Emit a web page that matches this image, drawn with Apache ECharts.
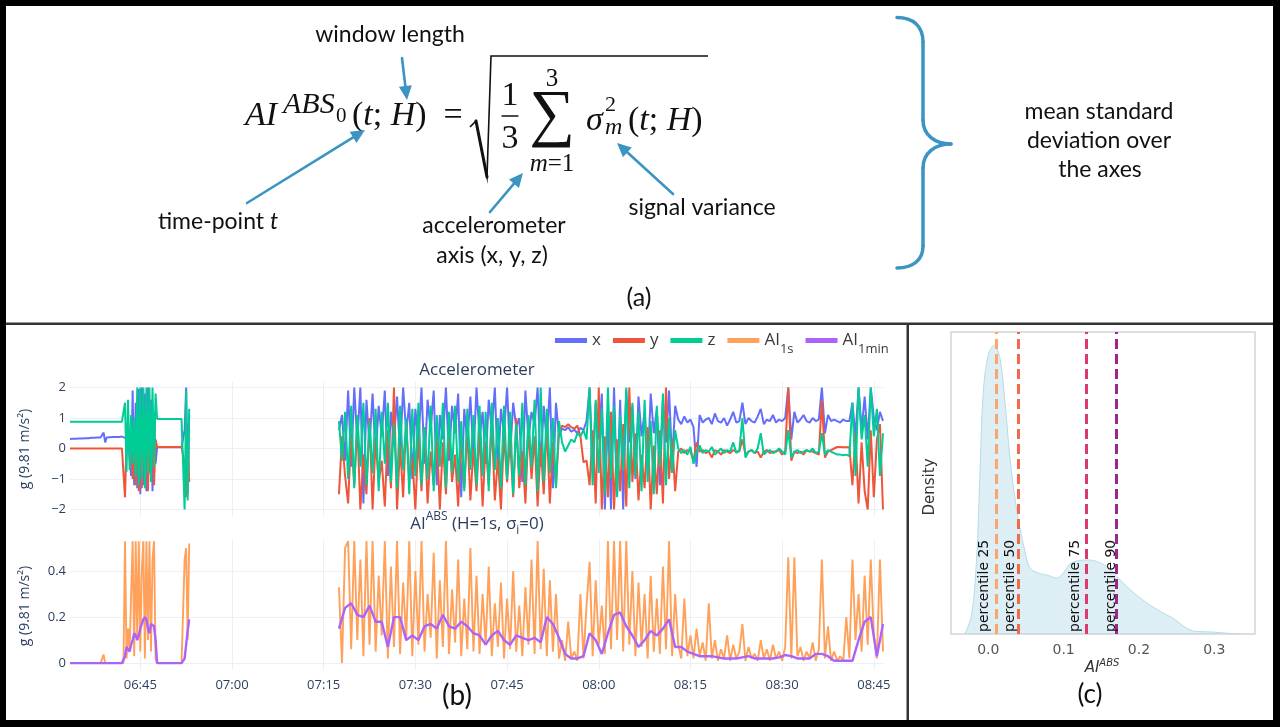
<!DOCTYPE html>
<html><head><meta charset="utf-8">
<script src="https://cdn.jsdelivr.net/npm/echarts@6/dist/echarts.min.js"></script>
<style>html,body{margin:0;padding:0;background:#fff}#c{width:1280px;height:727px}</style>
</head><body><div id="c"></div>
<script>
// ---------------- DATA ----------------
// time in minutes since midnight
const seg1Start = 393.5, seg1Step = 0.25;   // 06:33:30 .. 06:53:00
const seg2Start = 437.5, seg2Step = 0.5;    // 07:17:30 .. 08:46:30
const ai1minSeg2Step = 1.0;
const gapTime = 425;
const xMin = 393.5, xMax = 526.5;

const xTickValues = [405, 420, 435, 450, 465, 480, 495, 510, 525];
const accTicks = [-2, -1, 0, 1, 2];
const aiTicks = [0, 0.2, 0.4];

const accX1 = [0.31,0.31,0.32,0.32,0.32,0.33,0.33,0.33,0.33,0.34,0.34,0.34,0.34,0.35,0.35,0.35,0.35,0.35,0.36,0.36,0.36,0.36,
 0.52,0.2,0.36,
 0.37,0.37,0.37,0.38,0.38,0.38,0.38,0.38,0.38,0.39,0.39,
 0.35,0.3,0.32,0.28,-0.9,1.9,-1.2,1.5,-1.3,1.95,-1.5,2,-1.2,1.8,-1.4,2,-0.8,1.6,-1.4,1.2,-0.5,
 0.04,0.04,0.04,0.04,0.04,0.04,0.04,0.04,0.04,0.04,0.04,0.04,0.04,0.04,0.04,0.04,0.04,
 0.04,0.6,2.0,-1.5,1.1];
const accY1 = [0,0,0,0,0,0,0,0,0,0,0,0,0,0,0,0,0,0,0,0,0,0,0,0,0,0,0,0,0,0,0,0,0,0,0,0,
 -1.6,0.3,0.6,0.2,0.5,-1.0,0.8,-1.2,1.1,-1.4,0.9,-1.3,1.2,-1.1,0.6,-1.4,0.4,-0.9,1.0,-1.2,0.3,
 0.05,0.05,0.05,0.05,0.05,0.05,0.05,0.05,0.05,0.05,0.05,0.05,0.05,0.05,0.05,0.05,0.05,
 0.05,-0.5,-1.6,0.8,-1.1];
const accZ1 = [0.88,0.88,0.88,0.88,0.88,0.88,0.88,0.88,0.88,0.88,0.88,0.88,0.88,0.88,0.88,0.88,0.88,0.88,0.88,0.88,0.88,0.88,0.88,0.88,0.88,0.88,0.88,0.88,0.88,0.88,0.88,0.88,0.88,0.88,0.88,0.88,
 1.5,-0.76,1.6,-0.7,1.1,-0.5,1.0,-0.9,2.0,-1.2,2.0,-1.0,2.0,-1.3,2.0,-0.8,2.0,-1.1,2.0,-0.6,1.8,
 0.97,0.97,0.97,0.97,0.97,0.97,0.97,0.97,0.97,0.97,0.97,0.97,0.97,0.97,0.97,0.97,0.97,
 0.97,-2.0,1.9,-1.7,1.3];
const ai1s1 = [0,0,0,0,0,0,0,0,0,0,0,0,0,0,0,0,0,0,0,0,0,0,0.037,0,0,0,0,0,0,0,0,0,0,0,0,0,
 0.53,0.02,0.15,0.05,0.3,0.53,0.03,0.53,0.1,0.53,0.05,0.4,0.53,0.02,0.53,0.1,0.53,0.05,0.45,0.53,0.02,
 0,0,0,0,0,0,0,0,0,0,0,0,0,0,0,0,0,
 0.0,0.45,0.5,0.1,0.52];
const ai1min1 = [0,0,0,0,0,0,0,0,0,0,0,0,0,0,0,0,0,0,0,0,0,0,0,0,0,0,0,0,0,0,0,0,0,0,0,0,
 0.03,0.07,0.07,0.05,0.08,0.1,0.13,0.12,0.1,0.12,0.15,0.17,0.19,0.2,0.19,0.15,0.13,0.17,0.17,0.16,0.1,
 0,0,0,0,0,0,0,0,0,0,0,0,0,0,0,0,0,
 0.0,0.02,0.08,0.14,0.19];

const accX2 = [0.6,1.1,-0.4,
 1.9,-0.6,2.0,0.2,2.0,-1.8,1.6,0.1,1.8,-0.3,
 1.4,0.4,1.9,-0.9,1.2,0.3,1.7,-0.2,2.0,0.5,
 1.5,-1.0,1.3,0.2,2.0,-0.5,1.6,0.6,1.9,-1.2,
 1.1,0.3,2.0,-0.4,1.4,0.5,1.8,-1.6,1.3,0.2,
 1.7,-0.3,
 2.0,0.4,1.2,-0.5,1.6,0.6,2.0,-0.8,1.3,0.5,
 2.0,-0.2,1.5,0.7,1.0,-1.1,1.9,0.3,1.2,0.8,
 2.0,-0.6,1.4,0.2,2.0,-1.3,1.5,0.4,
 0.65,0.6,0.7,0.55,0.62,0.5,0.68,0.6,0.9,
 2.0,-0.8,1.5,0.3,1.8,-2.0,1.2,-2.0,2.0,-1.5,
 1.6,-2.0,1.9,0.2,1.4,-1.0,1.7,0.4,1.2,-0.7,
 1.8,0.5,1.3,-1.2,1.6,0.2,1.9,-0.4,1.4,
 0.95,0.8,1.05,0.85,0.95,0.7,-0.6,1.1,0.85,0.95,
 1.0,0.8,1.15,0.9,0.85,1.0,0.75,0.95,1.2,0.85,
 0.9,1.5,0.8,1.0,0.9,0.85,1.05,1.3,0.8,0.95,
 0.9,1.1,0.85,0.95,0.9,1.0,2.0,0.3,1.2,0.85,
 0.95,1.1,0.9,0.85,1.0,0.9,0.95,2.0,0.5,1.1,
 0.9,0.95,0.9,0.85,0.95,0.9,0.9,
 1.5,0.4,2.0,0.6,1.7,0.3,2.0,1.0,0.6,1.2,0.9];
const accY2 = [-1.5,0.4,-0.9,
 -1.8,0.5,-1.2,0.8,-2.0,-0.2,-1.5,1.0,-2.0,0.3,
 -1.1,-0.4,-1.9,0.6,-1.3,2.0,-2.0,0.1,-1.6,0.9,
 -1.0,-0.3,-2.0,0.4,-1.4,0.7,-1.8,-0.1,-1.2,0.5,
 -2.0,0.2,-1.5,0.8,-1.1,-0.2,-1.9,0.4,-1.3,0.6,
 -1.7,0.0,
 -1.4,0.6,-1.9,0.2,-1.2,0.9,-1.7,-0.3,-2.0,0.5,
 -1.1,0.3,-1.6,1.0,-1.3,-0.1,-1.8,0.7,-1.0,0.4,
 -1.9,0.1,-1.5,0.8,-1.8,0.2,-1.2,0.5,
 0.75,0.7,0.8,0.7,0.65,0.75,0.4,-0.45,-0.4,
 -1.2,0.6,-1.8,2.0,-2.0,0.4,-1.6,1.2,-2.0,0.3,
 -1.4,0.8,-1.9,2.0,-1.1,0.5,-1.7,-0.2,-1.3,0.7,
 -2.0,0.1,-1.5,0.6,-1.8,2.0,-1.0,0.3,-1.4,
 -0.1,0.0,-0.15,-0.05,-0.1,-0.4,0.2,-0.1,-0.05,-0.15,
 -0.1,-0.3,-0.05,-0.1,-0.2,-0.05,-0.1,-0.15,-0.05,-0.1,
 -0.1,0.3,-0.2,-0.1,-0.05,-0.15,-0.1,-0.3,-0.1,-0.05,
 -0.15,-0.1,-0.1,-0.05,-0.2,-0.1,2.0,-0.4,-0.1,-0.15,
 -0.1,-0.2,-0.05,-0.1,-0.1,-0.15,-0.2,1.6,-0.3,-0.1,
 -0.05,0.0,0.05,0.05,0.04,0.04,0.05,
 -1.2,0.5,-1.8,0.2,-1.4,-2.0,0.6,-1.6,0.3,0.8,-2.0];
const accZ2 = [0.9,-0.4,1.2,
 -1.0,1.4,-1.3,1.1,-0.6,1.5,-1.2,0.9,-0.8,1.3,
 -1.4,1.2,-0.5,1.5,-1.1,0.8,-1.3,1.4,-0.7,1.0,
 -1.5,1.3,-0.9,1.5,-1.2,0.7,-1.0,1.4,-1.4,1.1,
 -0.6,1.5,-1.3,1.2,-0.8,1.4,-1.1,0.9,-1.4,1.3,
 -0.7,1.1,
 -1.2,1.4,-0.9,1.2,-1.4,1.5,-0.7,1.0,-1.3,1.4,
 -1.0,1.2,-1.5,0.8,-0.9,1.5,-1.2,1.1,-0.6,1.6,
 -1.4,2.0,-1.1,1.3,-0.8,1.0,-1.3,0.9,
 0.2,-0.1,0.1,0.3,0.2,0.5,0.4,0.6,0.3,
 2.0,-1.2,1.6,-0.8,1.3,-1.5,2.0,-1.0,1.4,-1.6,
 1.1,-0.7,2.0,-1.3,1.5,-0.9,1.2,-1.4,1.6,-1.1,
 0.9,-1.5,1.4,-0.6,1.8,-1.2,1.0,-0.8,0.6,
 0.0,-0.15,-0.05,-0.2,0.05,-0.5,-0.1,0.1,-0.15,-0.05,
 -0.1,0.05,-0.2,-0.1,0.0,-0.15,-0.05,-0.1,0.2,-0.15,
 -0.05,1.0,-0.3,-0.1,-0.05,-0.15,0.0,0.5,-0.2,-0.1,
 -0.05,-0.15,-0.1,0.0,-0.1,-0.2,0.6,-0.3,-0.1,-0.05,
 -0.15,-0.1,-0.05,-0.1,0.0,-0.15,-0.1,0.5,-0.2,-0.05,
 -0.1,-0.15,-0.2,-0.2,-0.22,-0.2,-0.25,
 1.5,-0.9,2.0,0.3,1.1,-0.6,2.0,0.4,1.3,-0.9,0.5];
const ai1s2 = [0.33,0.0,0.5,
 0.53,0.06,0.53,0.1,0.45,0.03,0.53,0.08,0.53,0.05,
 0.38,0.12,0.53,0.02,0.42,0.07,0.53,0.04,0.35,0.1,
 0.53,0.03,0.4,0.08,0.53,0.05,0.3,0.11,0.48,0.02,
 0.36,0.07,0.53,0.04,0.32,0.09,0.45,0.03,0.28,0.06,
 0.5,0.05,
 0.38,0.04,0.3,0.08,0.42,0.03,0.26,0.07,0.35,0.02,
 0.28,0.06,0.4,0.05,0.25,0.03,0.33,0.08,0.45,0.04,
 0.53,0.06,0.41,0.03,0.36,0.05,0.3,0.02,
 0.1,0.01,0.18,0.02,0.05,0.01,0.3,0.02,0.25,
 0.44,0.03,0.36,0.08,0.25,0.04,0.53,0.06,0.53,0.1,
 0.53,0.05,0.53,0.08,0.4,0.03,0.35,0.07,0.3,0.02,
 0.38,0.05,0.28,0.04,0.42,0.06,0.53,0.03,0.3,
 0.08,0.02,0.28,0.03,0.12,0.02,0.15,0.03,0.09,0.01,
 0.26,0.02,0.1,0.01,0.06,0.02,0.12,0.01,0.08,0.02,
 0.05,0.17,0.01,0.07,0.02,0.04,0.01,0.1,0.02,0.06,
 0.01,0.08,0.02,0.05,0.01,0.07,0.46,0.02,0.46,0.03,
 0.07,0.01,0.05,0.02,0.09,0.01,0.06,0.45,0.02,0.16,
 0.01,0.05,0.01,0.03,0.01,0.2,0.02,
 0.45,0.1,0.3,0.05,0.38,0.08,0.45,0.12,0.02,0.45,0.05];
const ai1min2 = [0.15,0.24,0.26,0.21,0.2,0.25,0.18,0.18,0.07,0.2,
 0.2,0.1,0.12,0.1,0.16,0.17,0.15,0.21,0.16,0.15,
 0.18,0.16,0.13,0.12,0.08,0.12,0.14,0.1,0.08,0.12,
 0.11,0.1,0.11,0.09,0.2,0.17,0.11,0.04,0.02,0.02,
 0.03,0.13,0.1,0.04,0.13,0.21,0.22,0.16,0.12,0.07,
 0.1,0.14,0.12,0.15,0.19,0.07,0.07,0.05,0.04,0.03,
 0.03,0.03,0.025,0.02,0.02,0.02,0.025,0.03,0.02,0.02,
 0.02,0.02,0.025,0.035,0.03,0.02,0.02,0.02,0.04,0.04,
 0.03,0.01,0.01,0.01,0.01,0.1,0.18,0.2,0.03,0.17];

// density panel (c)
const densityX = [-0.031,-0.0221,-0.0155,-0.0111,-0.0066,0.0,0.008,0.0155,0.0221,0.0288,0.0354,0.042,0.0487,0.0553,0.0664,0.0797,0.0907,0.0996,0.1085,0.1195,0.1328,0.1461,0.1594,0.1726,0.1859,0.1992,0.2169,0.2346,0.2479,0.2612,0.2745,0.2966,0.3187,0.3364];
const densityY = [0,0.73,2.85,5.98,9.1,10.48,10.85,10.35,8.72,6.6,5.1,3.98,3.1,2.48,2.29,2.2,2.1,2.29,2.63,2.75,2.78,2.7,2.48,2.1,1.73,1.41,1.04,0.75,0.54,0.25,0.1,0.075,0.025,0];
const densityTicks = [0, 0.1, 0.2, 0.3];
const percentileNames = ['percentile 25','percentile 50','percentile 75','percentile 90'];
const percentileValues = [0.0058, 0.040, 0.127, 0.175];
const percentileColors = ['#f9a76c','#f06a4b','#dc3a6b','#a0248a'];

// ---------------- BUILD ----------------
function seg(start, step, vals){ return vals.map((v,i)=>[+(start+i*step).toFixed(3), v]); }
function joined(a, s2, b){ return seg(seg1Start, seg1Step, a).concat([[gapTime, null]], seg(seg2Start, s2, b)); }
function hhmm(v){ const h=Math.floor(v/60), m=Math.round(v-h*60); return (h<10?'0':'')+h+':'+(m<10?'0':'')+m; }
function minus(v){ return v<0 ? '\u2212'+Math.abs(v) : String(v); }

const PF = 'Open Sans';
const PC = '#2a3f5f';
const GRIDC = '#ebf0f8';

const chart = echarts.init(document.getElementById('c'), null, {renderer:'canvas'});

const option = {
  animation: false,
  backgroundColor: '#ffffff',
  grid: [
    {left: 70, width: 813, top: 382, height: 135, outerBoundsMode: 'none'},
    {left: 70, width: 813, top: 540, height: 130, outerBoundsMode: 'none'},
    {left: 951, width: 304, top: 332, height: 302, show: true, borderColor: '#d4d4d4', borderWidth: 1.5, backgroundColor: '#fff', outerBoundsMode: 'none'}
  ],
  legend: {
    data: ['x','y','z','AI1s','AI1min'],
    left: 550, top: 327, icon: 'rect', itemWidth: 32, itemHeight: 5, itemGap: 12,
    textStyle: {fontFamily: PF, fontSize: 17, color: '#3a3a3a',
      rich: {m: {fontFamily: PF, fontSize: 17, color: '#3a3a3a', lineHeight: 22, verticalAlign: 'middle'},
             s: {fontFamily: PF, fontSize: 13, color: '#3a3a3a', lineHeight: 22, verticalAlign: 'bottom', padding: [0,0,-4,0]}}},
    formatter: function(n){ if(n==='AI1s') return '{m|AI}{s|1s}'; if(n==='AI1min') return '{m|AI}{s|1min}'; return '{m|'+n+'}'; }
  },
  xAxis: [
    {type:'value', gridIndex:0, min:xMin, max:xMax, axisLine:{show:false}, axisTick:{show:false, customValues:xTickValues},
     axisLabel:{show:false, customValues:xTickValues}, splitLine:{show:true, lineStyle:{color:GRIDC, width:1}}},
    {type:'value', gridIndex:1, min:xMin, max:xMax, axisLine:{show:false}, axisTick:{show:false, customValues:xTickValues},
     axisLabel:{show:true, customValues:xTickValues, formatter:hhmm, color:PC, fontFamily:PF, fontSize:13, margin:9},
     splitLine:{show:true, lineStyle:{color:GRIDC, width:1}}},
    {type:'value', gridIndex:2, min:-0.0495, max:0.354, axisLine:{show:false}, axisTick:{show:false, customValues:densityTicks},
     axisLabel:{show:true, customValues:densityTicks, formatter:v=>v.toFixed(1), color:'#555', fontFamily:'DejaVu Sans', fontSize:14, margin:9},
     splitLine:{show:false}}
  ],
  yAxis: [
    {type:'value', gridIndex:0, min:-2.245, max:2.18, axisLine:{show:false}, axisTick:{show:false, customValues:accTicks},
     axisLabel:{customValues:accTicks, formatter:minus, color:PC, fontFamily:PF, fontSize:13, margin:4},
     splitLine:{show:true, lineStyle:{color:GRIDC, width:1}}},
    {type:'value', gridIndex:1, min:-0.03, max:0.535, axisLine:{show:false}, axisTick:{show:false, customValues:aiTicks},
     axisLabel:{customValues:aiTicks, formatter:v=>String(v), color:PC, fontFamily:PF, fontSize:13, margin:4},
     splitLine:{show:true, lineStyle:{color:GRIDC, width:1}}},
    {type:'value', gridIndex:2, min:0, max:11.34, show:false, splitLine:{show:false}}
  ],
  series: [
    {name:'x', type:'line', xAxisIndex:0, yAxisIndex:0, data: joined(accX1, seg2Step, accX2), showSymbol:false, connectNulls:false, color:'#636efa', lineStyle:{width:2}},
    {name:'y', type:'line', xAxisIndex:0, yAxisIndex:0, data: joined(accY1, seg2Step, accY2), showSymbol:false, connectNulls:false, color:'#ef553b', lineStyle:{width:2}},
    {name:'z', type:'line', xAxisIndex:0, yAxisIndex:0, data: joined(accZ1, seg2Step, accZ2), showSymbol:false, connectNulls:false, color:'#00cc96', lineStyle:{width:2}},
    {name:'AI1s', type:'line', xAxisIndex:1, yAxisIndex:1, data: joined(ai1s1, seg2Step, ai1s2), showSymbol:false, connectNulls:false, color:'#ffa15a', lineStyle:{width:1.9}},
    {name:'AI1min', type:'line', xAxisIndex:1, yAxisIndex:1, data: joined(ai1min1, ai1minSeg2Step, ai1min2), showSymbol:false, connectNulls:false, color:'#ab63fa', lineStyle:{width:2.4}},
    {name:'density', type:'line', xAxisIndex:2, yAxisIndex:2, data: densityX.map((x,i)=>[x, densityY[i]]), smooth:0.35, showSymbol:false,
     color:'#add8e6', lineStyle:{width:1, color:'#b5dbe7'}, areaStyle:{color:'rgba(173,216,230,0.6)'},
     markLine:{silent:true, symbol:['none','none'], label:{show:false},
       data: percentileValues.map((v,i)=>({xAxis:v, lineStyle:{color:percentileColors[i], type:[10,5], width:3}}))}}
  ]
};
chart.setOption(option);

// ---------------- GRAPHICS ----------------
const g = [];
function T(x, y, text, o){
  o = o || {};
  const st = {text: text, fill: o.fill || '#111', fontFamily: o.ff || 'Lato', fontSize: o.fs || 23,
    fontStyle: o.it ? 'italic' : 'normal', align: o.al || 'center', textAlign: o.al || 'center',
    verticalAlign: 'middle', textVerticalAlign: 'middle'};
  if (o.rich) st.rich = o.rich;
  g.push({type:'text', x:x, y:y, rotation:o.rot||0, z:100, style:st});
}
function R(x,y,w,h,fill){ g.push({type:'rect', z:200, shape:{x:x,y:y,width:w,height:h}, style:{fill:fill}}); }
function L(x1,y1,x2,y2,c,w){ g.push({type:'line', z:100, shape:{x1:x1,y1:y1,x2:x2,y2:y2}, style:{stroke:c, lineWidth:w, lineCap:'round'}}); }
function B(x1,y1,c1x,c1y,c2x,c2y,x2,y2,c,w){ g.push({type:'bezierCurve', z:100, shape:{x1:x1,y1:y1,cpx1:c1x,cpy1:c1y,cpx2:c2x,cpy2:c2y,x2:x2,y2:y2}, style:{stroke:c, lineWidth:w, fill:null, lineCap:'round'}}); }
const AC = '#3b94c1';
function arrow(x1,y1,x2,y2){
  const Lh=14, W=6.5, dx=x2-x1, dy=y2-y1, d=Math.hypot(dx,dy), ux=dx/d, uy=dy/d;
  const bx=x2-ux*Lh, by=y2-uy*Lh;
  L(x1,y1,bx+ux*2,by+uy*2,AC,2.6);
  g.push({type:'polygon', z:100, shape:{points:[[x2,y2],[bx-uy*W,by+ux*W],[bx+uy*W,by-ux*W]]}, style:{fill:AC}});
}

// borders
R(0,0,1280,6,'#000'); R(0,0,6,727,'#000'); R(1273,0,7,727,'#000'); R(0,720,1280,7,'#000');
R(6,322.5,1267,2.5,'#333'); R(906.5,324,2.5,396,'#333');

// ----- panel (a): formula -----
const SF = 'Liberation Serif';
const mi = {fontFamily:SF, fontStyle:'italic', fontSize:34, fill:'#111'};
const mr = {fontFamily:SF, fontStyle:'normal', fontSize:34, fill:'#111'};
T(245,116,'AI',{ff:SF, fs:34, it:true, al:'left'});
T(283,105,'ABS',{ff:SF, fs:30, it:true, al:'left'});
T(336,116,'0',{ff:SF, fs:21, al:'left'});
T(352,116,'{r|(}{i|t}{r|; }{i|H}{r|)}',{ff:SF, fs:34, al:'left', rich:{r:mr, i:mi}});
T(453,116,'=',{ff:SF, fs:34});
g.push({type:'polyline', z:100, shape:{points:[[470,127],[476,121],[487,177],[491,56],[708,56]]}, style:{stroke:'#111', lineWidth:1.6, fill:null}});
L(476,121,487,177,'#111',3);
T(510,96,'1',{ff:SF, fs:34});
L(502,116,518,116,'#111',1.3);
T(510,139,'3',{ff:SF, fs:34});
T(552,117,'\u2211',{ff:SF, fs:64});
T(552,79,'3',{ff:SF, fs:25});
T(552,164,'{i|m}{r|=1}',{ff:SF, fs:25, rich:{i:{fontFamily:SF,fontStyle:'italic',fontSize:25,fill:'#111'}, r:{fontFamily:SF,fontSize:25,fill:'#111'}}});
T(586,121,'\u03c3',{ff:SF, fs:34, it:true, al:'left'});
T(605,105,'2',{ff:SF, fs:22, al:'left'});
T(605,128,'m',{ff:SF, fs:24, it:true, al:'left'});
T(628,121,'{r|(}{i|t}{r|; }{i|H}{r|)}',{ff:SF, fs:34, al:'left', rich:{r:mr, i:mi}});

// labels & arrows
T(390,35,'window length');
arrow(402,58,407,100);
T(218,222,'{n|time-point }{i|t}',{rich:{n:{fontFamily:'Lato',fontSize:23,fill:'#111'}, i:{fontFamily:'Lato',fontSize:23,fontStyle:'italic',fill:'#111'}}});
arrow(247,203,365,130);
T(494,226,'accelerometer');
T(492,256,'axis (x, y, z)');
arrow(490,212,523,173);
T(702,208,'signal variance');
arrow(673,194,617,143);
// brace
const BC = '#3b94c1', BW = 3.5;
B(897,17.5,913,17.5,923,26,923,42,BC,BW);
L(923,42,923,120,BC,BW);
B(923,120,923,135,935,144,951,144,BC,BW);
B(951,144,935,144,923,153,923,168,BC,BW);
L(923,168,923,246,BC,BW);
B(923,246,923,260,913,268,897,268,BC,BW);
T(1099,112,'mean standard');
T(1099,141,'deviation over');
T(1100,170,'the axes');
T(639,298,'(a)',{fs:25});

// ----- panel (b) -----
T(477,370,'Accelerometer',{ff:PF, fs:17, fill:PC});
T(477,524,'{m|AI}{sup|ABS}{m| (H=1s, \u03c3}{sub|i}{m|=0)}',{ff:PF, fs:17, fill:PC,
  rich:{m:{fontFamily:PF,fontSize:17,fill:PC,lineHeight:26,verticalAlign:'middle'},
        sup:{fontFamily:PF,fontSize:12,fill:PC,lineHeight:26,verticalAlign:'top'},
        sub:{fontFamily:PF,fontSize:12,fill:PC,lineHeight:26,verticalAlign:'bottom'}}});
T(25,449,'g (9.81 m/s\u00b2)',{ff:PF, fs:14, fill:PC, rot:Math.PI/2});
T(25,606,'g (9.81 m/s\u00b2)',{ff:PF, fs:14, fill:PC, rot:Math.PI/2});
T(457,696,'(b)',{fs:28});

// ----- panel (c) -----
T(930,487,'Density',{ff:'DejaVu Sans', fs:15, fill:'#333', rot:Math.PI/2});
T(1102,668,'{i|AI}{s|ABS}',{rich:{i:{fontFamily:'DejaVu Sans',fontStyle:'italic',fontSize:15,fill:'#333',lineHeight:20,verticalAlign:'middle'},
  s:{fontFamily:'DejaVu Sans',fontStyle:'italic',fontSize:10,fill:'#333',lineHeight:20,verticalAlign:'top'}}});
T(1090,695,'(c)',{fs:26});
percentileValues.forEach(function(v,i){
  const p = chart.convertToPixel({xAxisIndex:2, yAxisIndex:2}, [v, 0]);
  T(p[0]-8.5, p[1]-2, percentileNames[i], {ff:'DejaVu Sans', fs:14, fill:'#111', al:'left', rot:Math.PI/2});
});

chart.setOption({graphic:{elements:g}});
</script></body></html>
